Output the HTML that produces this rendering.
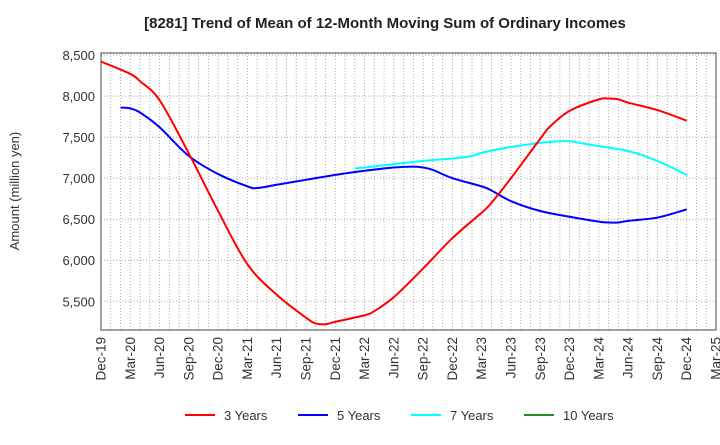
<!DOCTYPE html>
<html><head><meta charset="utf-8"><style>
body{margin:0;background:#fff;font-family:"Liberation Sans",sans-serif;}
svg text{font-family:"Liberation Sans",sans-serif;}
</style></head><body>
<svg id="c" width="720" height="440" xmlns="http://www.w3.org/2000/svg">
<text x="385" y="28" text-anchor="middle" font-size="15" font-weight="bold" fill="#222">[8281]  Trend of Mean of 12-Month Moving Sum of Ordinary Incomes</text>
<text transform="translate(19,191) rotate(-90)" text-anchor="middle" font-size="13" fill="#333">Amount (million yen)</text>
<g id="grid"></g><g id="series"></g><g id="axes"></g>
<g>
<line x1="185" y1="415" x2="215" y2="415" stroke="#ff0000" stroke-width="2"/><text x="224" y="420" font-size="13" fill="#333">3 Years</text>
<line x1="298" y1="415" x2="328" y2="415" stroke="#0000ff" stroke-width="2"/><text x="337" y="420" font-size="13" fill="#333">5 Years</text>
<line x1="411" y1="415" x2="441" y2="415" stroke="#00ffff" stroke-width="2"/><text x="450" y="420" font-size="13" fill="#333">7 Years</text>
<line x1="524" y1="415" x2="554" y2="415" stroke="#228B22" stroke-width="2"/><text x="563" y="420" font-size="13" fill="#333">10 Years</text>
</g>
</svg>
<script>
const xLabels=["Dec-19","Mar-20","Jun-20","Sep-20","Dec-20","Mar-21","Jun-21","Sep-21","Dec-21","Mar-22","Jun-22","Sep-22","Dec-22","Mar-23","Jun-23","Sep-23","Dec-23","Mar-24","Jun-24","Sep-24","Dec-24","Mar-25"];
const yTicks=[5500,6000,6500,7000,7500,8000,8500];
const m3=[0,3,4,6,9,12,15,18,21,22,23,24,27,28,30,33,36,39,40,42,45,46,48,51,52,53,54,57,60];
const v3=[8420,8270,8180,7950,7300,6600,5950,5580,5300,5230,5220,5250,5330,5380,5550,5900,6270,6580,6700,7000,7480,7630,7820,7960,7970,7960,7920,7830,7700];
const m5=[2,3,4,6,9,12,15,16,18,21,24,27,30,32,33,34,36,39,40,42,45,48,51,52,53,54,57,60];
const v5=[7860,7850,7800,7620,7270,7050,6900,6880,6920,6980,7040,7090,7130,7140,7130,7100,7000,6900,6850,6720,6600,6530,6470,6460,6460,6480,6520,6620];
const m7=[26,27,30,33,36,38,39,42,45,47,48,51,54,57,60];
const v7=[7120,7130,7170,7210,7240,7270,7310,7380,7430,7450,7450,7390,7330,7210,7040];
const L=101,R=716,T=53,B=330,YMIN=5150,YMAX=8525;
const xs=m=>L+(R-L)*m/63;
const ys=v=>B-(B-T)*(v-YMIN)/(YMAX-YMIN);
const NS="http://www.w3.org/2000/svg";
function mk(tag,attrs,parent){const e=document.createElementNS(NS,tag);for(const k in attrs)e.setAttribute(k,attrs[k]);parent.appendChild(e);return e;}
const g=document.getElementById('grid'),ax=document.getElementById('axes'),sg=document.getElementById('series');
for(let m=1;m<63;m++){const l=mk('line',{x1:xs(m),x2:xs(m),y1:T,y2:B,stroke:'#aaa','stroke-width':1,'stroke-dasharray':'1,2'},g);

}
yTicks.forEach(v=>{const l=mk('line',{x1:L,x2:R,y1:ys(v),y2:ys(v),stroke:'#aaa','stroke-width':1,'stroke-dasharray':'1,2'},g);


const t=mk('text',{x:L-6,y:ys(v)+5,'text-anchor':'end','font-size':13,fill:'#333'},ax);t.textContent=v.toLocaleString('en-US');

});
xLabels.forEach((s,i)=>{const x=xs(i*3);const t=mk('text',{transform:`translate(${x+4.5},${B+7}) rotate(-90)`,'text-anchor':'end','font-size':13.5,fill:'#333'},ax);t.textContent=s;

});
const fr=mk('rect',{x:L,y:T,width:R-L,height:B-T,fill:'none',stroke:'#444','stroke-width':1},ax);


function path(ms,vs){const p=ms.map((m,i)=>[xs(m),ys(vs[i])]);let d=`M${p[0][0]},${p[0][1]}`;
for(let i=0;i<p.length-1;i++){const p0=p[i-1]||p[i],p1=p[i],p2=p[i+1],p3=p[i+2]||p2;
d+=` C${p1[0]+(p2[0]-p0[0])/6},${p1[1]+(p2[1]-p0[1])/6} ${p2[0]-(p3[0]-p1[0])/6},${p2[1]-(p3[1]-p1[1])/6} ${p2[0]},${p2[1]}`;}return d;}
[[m7,v7,'#00ffff','series-7-years'],[m5,v5,'#0000ff','series-5-years'],[m3,v3,'#ff0000','series-3-years']].forEach(([m,v,c,n])=>{
const p=mk('path',{d:path(m,v),fill:'none',stroke:c,'stroke-width':2},sg);

});
</script>
</body></html>
